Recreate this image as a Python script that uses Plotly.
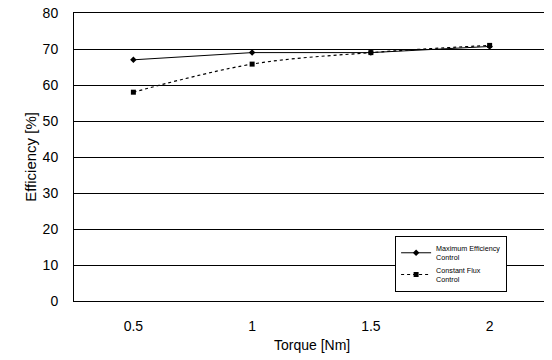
import plotly.graph_objects as go

torque = [0.5, 1, 1.5, 2]
tick_labels = ["0.5", "1", "1.5", "2"]
max_eff = [67.0, 69.0, 69.0, 70.7]
const_flux = [58.0, 65.8, 69.0, 71.0]

fig = go.Figure()
fig.add_trace(go.Scatter(
    x=torque, y=max_eff, mode="lines+markers",
    name="Maximum Efficiency<br>Control",
    line=dict(color="black", width=1),
    marker=dict(symbol="diamond", size=5, color="black"),
))
fig.add_trace(go.Scatter(
    x=torque, y=const_flux, mode="lines+markers",
    name="Constant Flux<br>Control",
    line=dict(color="black", width=1.2, dash="dot", shape="spline"),
    marker=dict(symbol="square", size=5, color="black"),
))

fig.update_layout(
    width=544, height=352,
    margin=dict(l=66, r=3, t=5, b=59),
    paper_bgcolor="white", plot_bgcolor="white",
    font=dict(family="Liberation Sans, Arial, sans-serif", color="black", size=13),
    showlegend=True,
    legend=dict(
        x=0.676, y=0.226, xanchor="left", yanchor="top",
        bordercolor="black", borderwidth=1, bgcolor="white",
        font=dict(size=7.2), itemwidth=30, tracegroupgap=0,
    ),
    xaxis=dict(
        range=[0.25, 2.25], tickvals=torque, ticktext=tick_labels,
        showgrid=False, zeroline=False, showline=True, linecolor="black",
        linewidth=1, mirror=True, ticks="", automargin=False,
        ticklabelstandoff=12, tickfont=dict(size=14),
        ticklabeloverflow="allow",
    ),
    yaxis=dict(
        range=[0, 80], dtick=10, showgrid=True, gridcolor="black", gridwidth=1,
        zeroline=False, showline=True, linecolor="black", linewidth=1,
        mirror=True, ticks="", automargin=False, ticklabelstandoff=12,
        tickfont=dict(size=14), ticklabeloverflow="allow",
    ),
    annotations=[
        dict(text="Torque [Nm]", xref="paper", yref="paper", x=0.5, y=-0.153,
             xanchor="center", yanchor="middle", showarrow=False,
             font=dict(size=14)),
        dict(text="Efficiency [%]", xref="paper", yref="paper", x=-0.093, y=0.5,
             xanchor="center", yanchor="middle", showarrow=False,
             textangle=-90, font=dict(size=15)),
    ],
)

fig.write_html("out.html")
